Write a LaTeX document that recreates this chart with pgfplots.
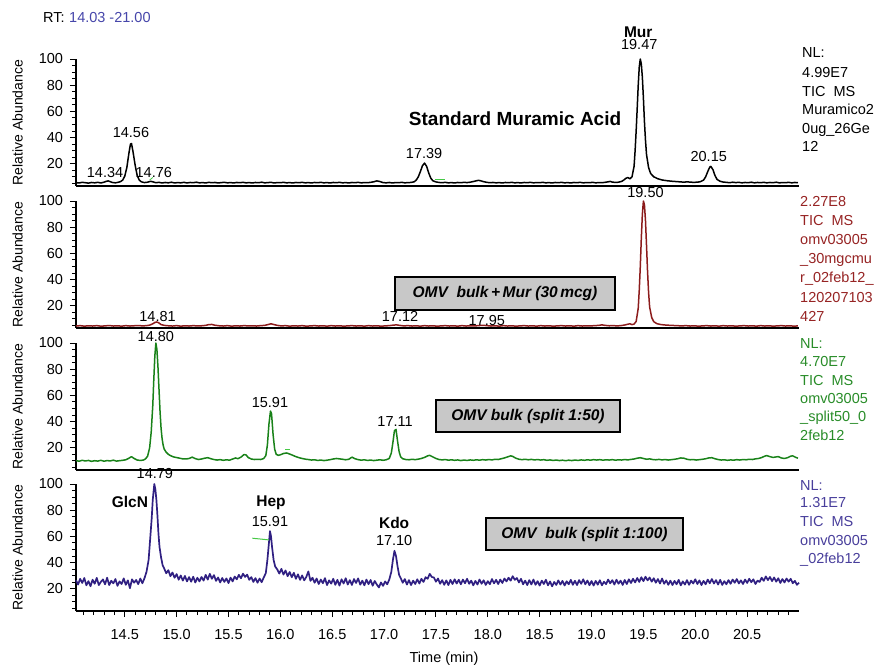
\documentclass[border=0pt]{standalone}
\usepackage{fontspec}
\setmainfont{Liberation Sans}
\usepackage{pgfplots}
\pgfplotsset{compat=1.18}
\definecolor{cRed}{RGB}{140,28,28}
\definecolor{cGreen}{RGB}{25,130,25}
\definecolor{cBlue}{RGB}{48,32,130}
\definecolor{tRed}{RGB}{150,35,35}
\definecolor{tGreen}{RGB}{40,140,40}
\definecolor{tBlue}{RGB}{72,62,155}
\definecolor{rtBlue}{RGB}{70,70,170}
\definecolor{boxgray}{RGB}{200,200,200}
\definecolor{artgreen}{RGB}{70,200,70}
\newcommand{\fs}{\fontsize{14.5}{17}\selectfont}
\newcommand{\fb}{\bfseries\fontsize{15.5}{18}\selectfont}
\newcommand{\fbx}{\bfseries\itshape\fontsize{15.5}{18}\selectfont}
\tikzset{lbl/.style={inner sep=0pt, font=\fs, anchor=base}}
\pgfplotsset{panel/.style={
  scale only axis, width=723pt, height=127pt,
  xmin=14.03, xmax=21.0, ymin=3, ymax=100,
  axis lines*=left, axis line style={line width=1.6pt},
  ytick={20,40,60,80,100},
  minor ytick={5,10,15,25,30,35,45,50,55,65,70,75,85,90,95},
  tick align=outside, major tick length=6pt, minor tick length=4pt,
  every tick/.style={black, line width=1pt},
  tick label style={font=\fs},
  yticklabel style={xshift=-3.5pt},
  /pgf/number format/assume math mode=true,
  ylabel={Relative Abundance},
  every axis y label/.style={at={(axis description cs:-0.0809,0.5)}, rotate=90, anchor=center, font=\fontsize{14}{16}\selectfont},
  clip=false,
  xtick=\empty,
  anchor=south west,
}}
\begin{document}
\begin{tikzpicture}
\useasboundingbox (0,0) rectangle (878pt,664pt);

% ---------------- Panel 1 ----------------
\begin{axis}[panel, at={(76pt,478pt)}]
\addplot[black, line width=1.5pt, line join=round] coordinates {
(14.03,5.6)(14.06,5.3)(14.09,5.8)(14.12,5.5)(14.15,5.2)(14.18,5.7)(14.21,5.4)(14.24,5.8)(14.27,5.3)(14.30,5.9)(14.32,6.5)(14.34,6.9)(14.36,6.3)(14.38,5.7)(14.41,5.4)(14.44,5.9)(14.46,6.4)(14.48,7.5)(14.50,10.5)(14.52,17)(14.54,28)(14.555,35)(14.565,35.5)(14.58,29)(14.60,19)(14.62,11)(14.64,7.5)(14.66,6.2)(14.69,5.6)(14.72,5.9)(14.75,6.6)(14.77,6.2)(14.80,5.5)(14.83,5.8)(14.86,5.3)(14.89,5.7)(14.92,5.4)(14.95,5.9)(14.98,5.3)(15.01,5.6)(15.04,5.4)(15.07,5.8)(15.10,5.3)(15.13,5.7)(15.16,5.5)(15.19,5.9)(15.22,5.4)(15.25,5.6)(15.28,5.3)(15.31,5.8)(15.34,5.5)(15.37,5.7)(15.40,5.3)(15.43,5.6)(15.46,5.8)(15.49,5.4)(15.52,5.6)(15.55,5.3)(15.58,5.7)(15.61,5.5)(15.64,5.8)(15.67,5.4)(15.70,5.6)(15.73,5.3)(15.76,5.7)(15.79,5.5)(15.82,5.9)(15.85,5.4)(15.88,5.6)(15.91,5.8)(15.94,5.3)(15.97,5.6)(16.00,5.5)(16.03,5.8)(16.06,5.4)(16.09,5.6)(16.12,5.3)(16.15,5.7)(16.18,5.5)(16.21,5.8)(16.24,5.4)(16.27,5.6)(16.30,5.3)(16.33,5.7)(16.36,5.5)(16.39,5.8)(16.42,5.4)(16.45,5.6)(16.48,5.3)(16.51,5.7)(16.54,5.5)(16.57,5.8)(16.60,5.4)(16.63,5.6)(16.66,5.3)(16.69,5.7)(16.72,5.5)(16.75,5.8)(16.78,5.4)(16.81,5.6)(16.84,5.5)(16.87,5.8)(16.90,6.2)(16.93,6.9)(16.96,6.4)(16.99,5.6)(17.02,5.4)(17.05,5.7)(17.08,5.3)(17.11,5.6)(17.14,5.5)(17.17,5.8)(17.20,5.4)(17.23,5.6)(17.26,5.7)(17.29,6.2)(17.31,7.5)(17.33,10)(17.35,14)(17.37,18.5)(17.39,20.5)(17.41,18)(17.43,13)(17.45,9)(17.47,7)(17.50,6.1)(17.53,5.7)(17.56,5.5)(17.59,5.8)(17.62,5.4)(17.65,5.6)(17.68,5.3)(17.71,5.7)(17.74,5.5)(17.77,5.8)(17.80,5.6)(17.83,5.9)(17.86,6.4)(17.89,7.0)(17.91,7.3)(17.93,7.0)(17.96,6.3)(17.99,5.8)(18.02,5.5)(18.05,5.7)(18.08,5.4)(18.11,5.6)(18.14,5.3)(18.17,5.7)(18.20,5.5)(18.23,5.8)(18.26,5.4)(18.29,5.6)(18.32,5.3)(18.35,5.7)(18.38,5.5)(18.41,5.8)(18.44,5.4)(18.47,5.6)(18.50,5.5)(18.53,5.8)(18.56,5.4)(18.59,5.6)(18.62,5.3)(18.65,5.7)(18.68,5.5)(18.71,5.8)(18.74,5.4)(18.77,5.6)(18.80,5.3)(18.83,5.7)(18.86,5.5)(18.89,5.8)(18.92,5.4)(18.95,5.6)(18.98,5.5)(19.01,5.8)(19.04,5.4)(19.07,5.6)(19.10,5.5)(19.13,5.8)(19.16,6.2)(19.18,6.5)(19.20,6.0)(19.23,5.7)(19.26,5.9)(19.29,6.5)(19.31,7.5)(19.33,8.8)(19.35,9.5)(19.37,8.5)(19.39,10)(19.41,18)(19.42,30)(19.43,45)(19.44,62)(19.45,80)(19.46,94)(19.47,100)(19.48,96)(19.49,86)(19.50,70)(19.51,52)(19.52,38)(19.53,27)(19.55,17)(19.57,12.5)(19.60,10)(19.64,8.5)(19.68,7.6)(19.73,7.0)(19.78,6.6)(19.83,6.3)(19.88,6.0)(19.93,6.1)(19.98,5.8)(20.02,5.9)(20.05,6.3)(20.08,7.5)(20.10,10)(20.12,14)(20.14,17.5)(20.15,18)(20.17,15.5)(20.19,11)(20.21,8)(20.24,6.6)(20.27,6.0)(20.30,5.8)(20.33,5.5)(20.36,5.9)(20.39,5.6)(20.42,5.8)(20.45,5.4)(20.48,5.7)(20.51,5.5)(20.54,5.9)(20.57,5.4)(20.60,5.7)(20.63,5.5)(20.66,5.8)(20.69,5.4)(20.72,5.7)(20.75,5.5)(20.78,5.9)(20.81,5.4)(20.84,5.6)(20.87,5.5)(20.90,5.8)(20.93,5.4)(20.96,5.7)(20.99,5.5)
};
\addplot[artgreen, line width=1pt] coordinates {(17.49,8)(17.59,8)};
\addplot[artgreen, line width=0.8pt] coordinates {(14.74,7.5)(14.77,9.5)};
\node[lbl] at (axis cs:14.31,9.33) {14.34};
\node[lbl] at (axis cs:14.56,39.8) {14.56};
\node[lbl] at (axis cs:14.78,9.33) {14.76};
\node[lbl] at (axis cs:17.386,23.8) {17.39};
\node[lbl, font=\bfseries\fontsize{19}{21}\selectfont] at (axis cs:18.263,49) {Standard Muramic Acid};
\node[lbl, font=\fb] at (axis cs:19.45,116.8) {Mur};
\node[lbl] at (axis cs:19.46,106.9) {19.47};
\node[lbl] at (axis cs:20.13,21.5) {20.15};
\end{axis}

% ---------------- Panel 2 ----------------
\begin{axis}[panel, at={(76pt,336pt)}]
\addplot[cRed, line width=1.5pt, line join=round] coordinates {
(14.03,4.5)(14.07,4.8)(14.11,4.4)(14.15,4.7)(14.19,4.5)(14.23,4.8)(14.27,4.4)(14.31,4.6)(14.35,4.9)(14.39,4.5)(14.43,4.7)(14.47,4.4)(14.51,4.8)(14.55,4.5)(14.59,4.7)(14.63,4.9)(14.67,4.6)(14.71,4.8)(14.74,5.2)(14.77,6.2)(14.79,7.2)(14.81,7.6)(14.83,6.8)(14.85,5.6)(14.88,5.0)(14.92,4.7)(14.96,4.5)(15.00,4.8)(15.04,4.4)(15.08,4.7)(15.12,4.5)(15.16,4.8)(15.20,4.6)(15.24,4.7)(15.28,5.0)(15.31,5.6)(15.34,5.7)(15.37,5.1)(15.41,4.7)(15.45,4.5)(15.49,4.8)(15.53,4.4)(15.57,4.7)(15.61,4.5)(15.65,4.8)(15.69,4.6)(15.73,4.7)(15.77,4.5)(15.81,4.8)(15.85,5.0)(15.88,5.6)(15.91,6.2)(15.94,5.6)(15.97,5.0)(16.01,4.6)(16.05,4.8)(16.09,4.4)(16.13,4.7)(16.17,4.5)(16.21,4.8)(16.25,4.4)(16.29,4.6)(16.33,4.8)(16.37,4.5)(16.41,4.7)(16.45,4.4)(16.49,4.8)(16.53,4.5)(16.57,4.7)(16.61,4.4)(16.65,4.6)(16.69,4.8)(16.73,4.5)(16.77,4.7)(16.81,4.4)(16.85,4.8)(16.89,4.5)(16.93,4.7)(16.97,4.4)(17.01,4.6)(17.05,4.8)(17.09,5.2)(17.12,5.4)(17.15,5.0)(17.19,4.6)(17.23,4.8)(17.27,4.5)(17.31,4.7)(17.35,4.4)(17.39,4.8)(17.43,4.5)(17.47,4.7)(17.51,4.4)(17.55,4.6)(17.59,4.8)(17.63,4.5)(17.67,4.7)(17.71,4.4)(17.75,4.8)(17.79,4.5)(17.83,4.7)(17.87,4.6)(17.91,4.8)(17.95,5.1)(17.99,4.8)(18.03,4.5)(18.07,4.7)(18.11,4.4)(18.15,4.8)(18.19,4.5)(18.23,4.7)(18.27,4.4)(18.31,4.6)(18.35,4.8)(18.39,4.5)(18.43,4.7)(18.47,4.4)(18.51,4.8)(18.55,4.5)(18.59,4.7)(18.63,4.4)(18.67,4.6)(18.71,4.8)(18.75,4.5)(18.79,4.7)(18.83,4.4)(18.87,4.8)(18.91,4.5)(18.95,4.7)(18.99,4.6)(19.03,4.8)(19.07,5.0)(19.10,5.4)(19.13,5.0)(19.17,4.7)(19.21,4.8)(19.25,4.6)(19.29,4.9)(19.32,5.3)(19.35,5.9)(19.37,6.2)(19.39,5.6)(19.41,6.0)(19.43,8)(19.45,18)(19.46,32)(19.47,50)(19.48,72)(19.49,90)(19.50,100)(19.51,97)(19.52,85)(19.53,66)(19.54,46)(19.55,30)(19.56,19)(19.58,11)(19.60,7.8)(19.63,6.3)(19.67,5.6)(19.72,5.2)(19.77,5.0)(19.82,4.8)(19.87,4.6)(19.91,4.8)(19.95,4.5)(19.99,4.7)(20.03,4.4)(20.07,4.6)(20.11,4.8)(20.15,4.5)(20.19,4.7)(20.23,4.4)(20.27,4.8)(20.31,4.5)(20.35,4.7)(20.39,4.4)(20.43,4.6)(20.47,4.8)(20.51,4.5)(20.55,4.7)(20.59,4.4)(20.63,4.8)(20.67,4.5)(20.71,4.7)(20.75,4.4)(20.79,4.6)(20.83,4.8)(20.87,4.5)(20.91,4.7)(20.95,4.4)(20.99,4.6)
};
\node[lbl] at (axis cs:19.52,102.3) {19.50};
\node[lbl] at (axis cs:14.816,7.8) {14.81};
\node[lbl] at (axis cs:17.154,7.8) {17.12};
\node[lbl] at (axis cs:17.99,4.8) {17.95};
\end{axis}

% ---------------- Panel 3 ----------------
\begin{axis}[panel, at={(76pt,194pt)}]
\addplot[cGreen, line width=1.5pt, line join=round] coordinates {
(14.03,10.2)(14.06,9.7)(14.09,10.4)(14.12,9.9)(14.15,10.3)(14.18,9.6)(14.21,10.1)(14.24,9.8)(14.27,10.4)(14.30,9.7)(14.33,10.2)(14.36,9.9)(14.39,10.5)(14.42,9.8)(14.45,10.1)(14.48,10.4)(14.51,10.8)(14.54,12)(14.565,13.2)(14.59,11.8)(14.62,10.6)(14.65,10.3)(14.68,10.6)(14.70,11.5)(14.72,13.5)(14.74,20)(14.755,32)(14.77,52)(14.78,72)(14.79,90)(14.80,100)(14.81,95)(14.82,82)(14.83,65)(14.84,48)(14.85,35)(14.86,27)(14.87,22)(14.88,19)(14.90,16.5)(14.92,15)(14.94,14)(14.97,13)(15.00,12.5)(15.03,12)(15.06,11.5)(15.09,11.4)(15.12,11.8)(15.15,12.8)(15.18,11.7)(15.21,11.0)(15.24,11.4)(15.27,12.0)(15.30,12.4)(15.33,11.6)(15.36,11.0)(15.39,10.6)(15.42,10.9)(15.45,10.4)(15.48,10.8)(15.51,10.5)(15.54,11.4)(15.57,12.2)(15.59,11.6)(15.62,12.8)(15.65,14.8)(15.67,14.5)(15.69,12.5)(15.72,11.4)(15.75,11.0)(15.78,11.2)(15.81,11.0)(15.84,11.8)(15.86,14)(15.875,22)(15.89,38)(15.905,48)(15.915,46)(15.93,30)(15.945,19)(15.96,15)(15.98,14.2)(16.00,14.6)(16.03,15.6)(16.06,16.0)(16.09,15.2)(16.12,14.2)(16.15,13.2)(16.18,12.4)(16.21,11.8)(16.24,11.3)(16.27,11.0)(16.30,10.6)(16.33,10.8)(16.36,10.3)(16.39,10.6)(16.42,10.2)(16.45,10.5)(16.48,10.9)(16.51,11.4)(16.54,11.8)(16.57,11.5)(16.60,11.2)(16.63,10.8)(16.66,11.2)(16.69,12.8)(16.72,11.6)(16.75,10.9)(16.78,10.5)(16.81,10.8)(16.84,10.3)(16.87,10.6)(16.90,10.2)(16.93,10.5)(16.96,10.8)(16.99,10.4)(17.02,10.8)(17.05,11.8)(17.07,16)(17.085,24)(17.10,33)(17.115,34)(17.13,25)(17.145,17)(17.16,13)(17.18,11.6)(17.21,11.0)(17.24,10.8)(17.27,11.2)(17.30,10.9)(17.33,11.3)(17.36,11.8)(17.39,12.6)(17.42,13.8)(17.44,14.2)(17.47,13.0)(17.50,11.8)(17.53,11.0)(17.56,10.7)(17.59,11.0)(17.62,10.5)(17.65,10.8)(17.68,10.4)(17.71,10.7)(17.74,10.2)(17.77,10.6)(17.80,10.3)(17.83,10.7)(17.86,10.4)(17.89,10.8)(17.92,10.5)(17.95,10.9)(17.98,10.6)(18.01,11.0)(18.04,10.7)(18.07,11.2)(18.10,11.0)(18.13,11.6)(18.16,12.2)(18.19,13.0)(18.22,13.8)(18.24,13.4)(18.27,12.0)(18.30,11.2)(18.33,10.9)(18.36,11.2)(18.39,10.8)(18.42,11.1)(18.45,10.7)(18.48,11.0)(18.51,10.6)(18.54,10.9)(18.57,10.4)(18.60,10.7)(18.63,10.3)(18.66,10.6)(18.69,10.2)(18.72,10.5)(18.75,10.1)(18.78,10.5)(18.81,10.2)(18.84,10.6)(18.87,10.3)(18.90,10.7)(18.93,10.4)(18.96,10.8)(18.99,10.5)(19.02,10.9)(19.05,10.6)(19.08,10.9)(19.11,10.5)(19.14,10.8)(19.17,10.6)(19.20,10.9)(19.23,10.5)(19.26,10.8)(19.29,10.6)(19.32,11.0)(19.35,10.7)(19.38,11.1)(19.41,11.4)(19.44,12.0)(19.47,12.4)(19.50,11.8)(19.53,11.2)(19.56,11.5)(19.59,11.0)(19.62,10.8)(19.65,11.1)(19.68,10.7)(19.71,11.0)(19.74,10.6)(19.77,10.9)(19.80,11.2)(19.83,11.6)(19.86,12.2)(19.89,12.0)(19.92,11.2)(19.95,10.8)(19.98,11.0)(20.01,10.6)(20.04,10.9)(20.07,11.2)(20.10,11.6)(20.13,12.2)(20.16,12.4)(20.19,11.6)(20.22,11.0)(20.25,10.6)(20.28,10.8)(20.31,10.4)(20.34,10.7)(20.37,10.5)(20.40,10.9)(20.43,10.6)(20.46,11.0)(20.49,10.8)(20.52,11.2)(20.55,11.0)(20.58,11.5)(20.61,11.8)(20.64,12.5)(20.67,13.6)(20.69,14.0)(20.72,13.2)(20.75,12.6)(20.78,13.0)(20.80,13.2)(20.83,12.2)(20.86,11.8)(20.89,12.4)(20.92,13.6)(20.94,13.8)(20.97,12.6)(20.99,12.0)
};
\addplot[artgreen, line width=1pt] coordinates {(16.045,19)(16.09,19)};
\node[lbl] at (axis cs:14.80,100.8) {14.80};
\node[lbl] at (axis cs:15.90,50.5) {15.91};
\node[lbl] at (axis cs:17.106,36.0) {17.11};
\end{axis}

% ---------------- Panel 4 ----------------
\begin{axis}[panel, at={(76pt,53pt)},
  xtick={14.5,15.0,15.5,16.0,16.5,17.0,17.5,18.0,18.5,19.0,19.5,20.0,20.5},
  minor xtick={14.1,14.2,14.3,14.4,14.6,14.7,14.8,14.9,15.1,15.2,15.3,15.4,15.6,15.7,15.8,15.9,16.1,16.2,16.3,16.4,16.6,16.7,16.8,16.9,17.1,17.2,17.3,17.4,17.6,17.7,17.8,17.9,18.1,18.2,18.3,18.4,18.6,18.7,18.8,18.9,19.1,19.2,19.3,19.4,19.6,19.7,19.8,19.9,20.1,20.2,20.3,20.4,20.6,20.7,20.8,20.9},
  scaled x ticks=false,
  xticklabel style={yshift=-9pt, /pgf/number format/.cd, fixed, fixed zerofill, precision=1},
]
\addplot[cBlue, line width=1.7pt, line join=round] coordinates {
(14.03,26.5)(14.05,23.2)(14.07,27.6)(14.09,24.4)(14.11,28.2)(14.13,22.6)(14.15,25.8)(14.17,21.9)(14.19,26.9)(14.21,23.8)(14.23,28.3)(14.25,22.8)(14.27,25.3)(14.29,27.1)(14.31,23.4)(14.33,28.4)(14.35,22.8)(14.37,26.1)(14.39,24.1)(14.41,27.4)(14.43,22.2)(14.45,25.6)(14.47,23.6)(14.49,27.9)(14.51,23.0)(14.53,26.4)(14.55,20.4)(14.57,27.2)(14.59,24.6)(14.61,26.7)(14.63,23.5)(14.65,27.8)(14.67,24.2)(14.69,28.0)(14.71,33)(14.73,42)(14.745,58)(14.76,74)(14.77,88)(14.785,100)(14.795,96)(14.805,88)(14.815,76)(14.825,62)(14.835,52)(14.85,44)(14.865,38)(14.88,35.5)(14.90,31.8)(14.92,34.2)(14.94,29.6)(14.96,32.4)(14.98,28.4)(15.00,31.2)(15.02,26.9)(15.04,30.1)(15.06,26.2)(15.08,29.8)(15.10,25.6)(15.12,28.9)(15.14,25.4)(15.16,29.2)(15.18,24.8)(15.20,28.4)(15.22,25.6)(15.24,29.0)(15.26,26.2)(15.28,30.6)(15.30,27.0)(15.32,31.4)(15.34,27.6)(15.36,30.4)(15.38,26.0)(15.40,28.6)(15.42,24.8)(15.44,28.2)(15.46,25.2)(15.48,27.9)(15.50,24.3)(15.52,28.5)(15.54,25.6)(15.56,29.3)(15.58,27.2)(15.60,30.6)(15.62,28.0)(15.64,31.5)(15.66,29.0)(15.68,30.8)(15.70,26.8)(15.72,28.9)(15.74,25.2)(15.76,28.1)(15.78,24.6)(15.80,27.8)(15.82,25.0)(15.84,28.6)(15.86,32)(15.875,42)(15.89,55)(15.90,64)(15.91,60)(15.92,52)(15.935,42)(15.95,37)(15.97,34.8)(15.99,31.6)(16.01,35.2)(16.03,30.8)(16.05,34.0)(16.07,29.6)(16.09,32.8)(16.11,28.8)(16.13,32.2)(16.15,27.6)(16.17,31.0)(16.19,26.8)(16.21,30.2)(16.23,26.4)(16.25,29.0)(16.27,33.2)(16.29,26.0)(16.31,28.4)(16.33,24.6)(16.35,27.8)(16.37,23.6)(16.39,27.0)(16.41,24.2)(16.43,28.1)(16.45,22.8)(16.47,26.4)(16.49,23.9)(16.51,27.6)(16.53,23.0)(16.55,26.8)(16.57,22.4)(16.59,27.2)(16.61,24.0)(16.63,28.0)(16.65,23.2)(16.67,26.6)(16.69,22.9)(16.71,27.4)(16.73,24.4)(16.75,27.9)(16.77,23.1)(16.79,26.2)(16.81,22.6)(16.83,27.0)(16.85,23.5)(16.87,26.7)(16.89,22.3)(16.91,25.9)(16.93,23.2)(16.95,21.0)(16.97,24.8)(16.99,22.2)(17.01,25.6)(17.03,23.4)(17.05,27.0)(17.07,33)(17.085,42)(17.10,49)(17.115,45)(17.13,37)(17.145,30.5)(17.16,28.2)(17.18,24.6)(17.20,27.4)(17.22,23.2)(17.24,26.6)(17.26,22.8)(17.28,26.2)(17.30,23.6)(17.32,27.2)(17.34,24.0)(17.36,27.6)(17.38,25.2)(17.40,28.8)(17.42,27.6)(17.44,31.4)(17.46,29.0)(17.48,28.6)(17.50,25.4)(17.52,27.8)(17.54,23.8)(17.56,26.6)(17.58,23.0)(17.60,26.4)(17.62,22.8)(17.64,26.8)(17.66,23.6)(17.68,27.2)(17.70,24.0)(17.72,26.9)(17.74,23.4)(17.76,27.0)(17.78,24.2)(17.80,27.6)(17.82,23.8)(17.84,26.2)(17.86,22.6)(17.88,26.0)(17.90,23.2)(17.92,27.1)(17.94,23.8)(17.96,26.5)(17.98,22.9)(18.00,25.8)(18.02,23.5)(18.04,27.4)(18.06,24.1)(18.08,26.8)(18.10,23.6)(18.12,27.0)(18.14,24.4)(18.16,27.8)(18.18,25.6)(18.20,28.4)(18.22,26.2)(18.24,29.6)(18.26,26.8)(18.28,28.2)(18.30,24.8)(18.32,27.6)(18.34,23.4)(18.36,26.2)(18.38,22.8)(18.40,26.6)(18.42,23.3)(18.44,27.0)(18.46,23.0)(18.48,25.8)(18.50,22.4)(18.52,26.2)(18.54,23.6)(18.56,26.9)(18.58,22.6)(18.60,25.6)(18.62,21.8)(18.64,25.2)(18.66,22.9)(18.68,26.4)(18.70,23.2)(18.72,26.0)(18.74,22.5)(18.76,25.7)(18.78,23.4)(18.80,26.8)(18.82,23.0)(18.84,26.1)(18.86,22.8)(18.88,26.6)(18.90,23.8)(18.92,27.2)(18.94,23.4)(18.96,26.3)(18.98,22.7)(19.00,25.9)(19.02,22.4)(19.04,26.0)(19.06,23.1)(19.08,26.5)(19.10,22.6)(19.12,25.4)(19.14,23.5)(19.16,27.0)(19.18,24.1)(19.20,26.6)(19.22,23.2)(19.24,26.9)(19.26,23.8)(19.28,26.2)(19.30,22.9)(19.32,26.7)(19.34,23.6)(19.36,27.2)(19.38,24.4)(19.40,27.6)(19.42,24.8)(19.44,28.2)(19.46,25.2)(19.48,28.8)(19.50,25.8)(19.52,29.2)(19.54,26.4)(19.56,28.6)(19.58,25.4)(19.60,28.0)(19.62,24.6)(19.64,27.4)(19.66,24.0)(19.68,27.8)(19.70,23.8)(19.72,26.4)(19.74,23.0)(19.76,26.2)(19.78,22.8)(19.80,26.0)(19.82,23.4)(19.84,26.8)(19.86,22.6)(19.88,25.6)(19.90,23.2)(19.92,26.6)(19.94,23.0)(19.96,26.2)(19.98,24.0)(20.00,27.2)(20.02,23.6)(20.04,26.4)(20.06,22.8)(20.08,26.0)(20.10,23.4)(20.12,27.0)(20.14,24.2)(20.16,27.4)(20.18,24.0)(20.20,26.6)(20.22,23.2)(20.24,26.8)(20.26,22.9)(20.28,25.8)(20.30,23.4)(20.32,26.6)(20.34,23.8)(20.36,27.0)(20.38,24.6)(20.40,27.4)(20.42,24.0)(20.44,26.4)(20.46,23.6)(20.48,27.0)(20.50,24.4)(20.52,27.6)(20.54,25.0)(20.56,27.2)(20.58,23.6)(20.60,26.2)(20.62,25.2)(20.64,28.4)(20.66,26.0)(20.68,29.4)(20.70,26.6)(20.72,29.0)(20.74,25.8)(20.76,28.6)(20.78,25.4)(20.80,28.0)(20.82,24.4)(20.84,27.4)(20.86,24.8)(20.88,27.8)(20.90,25.4)(20.92,27.6)(20.94,24.2)(20.96,26.0)(20.98,23.0)(21.00,24.6)
};
\addplot[artgreen, line width=1pt] coordinates {(15.73,58.6)(15.89,57.3)};
\node[lbl] at (axis cs:14.79,104.2) {14.79};
\node[lbl, font=\fb] at (axis cs:14.55,81.7) {GlcN};
\node[lbl, font=\fb] at (axis cs:15.91,82.5) {Hep};
\node[lbl] at (axis cs:15.90,67.2) {15.91};
\node[lbl, font=\fb] at (axis cs:17.097,65.7) {Kdo};
\node[lbl] at (axis cs:17.097,52.8) {17.10};
\end{axis}

% ---------------- Boxes ----------------
\node[draw=black, line width=1.3pt, fill=boxgray, minimum width=220pt, minimum height=33pt, inner sep=0pt, font=\fbx] at (505pt,370.5pt) {OMV\ \ bulk\,+\,Mur (30\,mcg)};
\node[draw=black, line width=1.3pt, fill=boxgray, minimum width=184pt, minimum height=32pt, inner sep=0pt, font=\fbx] at (528pt,248pt) {OMV bulk (split 1:50)};
\node[draw=black, line width=1.3pt, fill=boxgray, minimum width=197pt, minimum height=32pt, inner sep=0pt, font=\fbx] at (584.5pt,130pt) {OMV\ \ bulk (split 1:100)};

% ---------------- Top and bottom text ----------------
\node[inner sep=0pt, anchor=base west, font=\fs] at (43pt,641.3pt) {RT:};
\node[inner sep=0pt, anchor=base west, font=\fs, text=rtBlue] at (69pt,641.3pt) {14.03 -21.00};
\node[inner sep=0pt, anchor=base, font=\fs] at (444pt,2pt) {Time (min)};

% ---------------- Right side text ----------------
\begin{scope}[every node/.style={inner sep=0pt, anchor=base west, font=\fs}]
\node at (802pt,606.7pt) {NL:};
\node at (802pt,586.7pt) {4.99E7};
\node at (802pt,567.3pt) {TIC\ \ MS};
\node at (802pt,549pt) {Muramico2};
\node at (802pt,530.7pt) {0ug\_26Ge};
\node at (802pt,512.3pt) {12};
\end{scope}
\begin{scope}[every node/.style={inner sep=0pt, anchor=base west, font=\fs, text=tRed}]
\node at (800pt,457pt) {2.27E8};
\node at (800pt,438pt) {TIC\ \ MS};
\node at (800pt,419pt) {omv03005};
\node at (800pt,400.5pt) {\_30mgcmu};
\node at (800pt,381pt) {r\_02feb12\_};
\node at (800pt,361pt) {120207103};
\node at (800pt,342pt) {427};
\end{scope}
\begin{scope}[every node/.style={inner sep=0pt, anchor=base west, font=\fs, text=tGreen}]
\node at (800pt,315pt) {NL:};
\node at (800pt,297pt) {4.70E7};
\node at (800pt,278pt) {TIC\ \ MS};
\node at (800pt,260pt) {omv03005};
\node at (800pt,242pt) {\_split50\_0};
\node at (800pt,223pt) {2feb12};
\end{scope}
\begin{scope}[every node/.style={inner sep=0pt, anchor=base west, font=\fs, text=tBlue}]
\node at (800pt,173.3pt) {NL:};
\node at (800pt,156.7pt) {1.31E7};
\node at (800pt,137pt) {TIC\ \ MS};
\node at (800pt,118.3pt) {omv03005};
\node at (800pt,100pt) {\_02feb12};
\end{scope}
\end{tikzpicture}
\end{document}
